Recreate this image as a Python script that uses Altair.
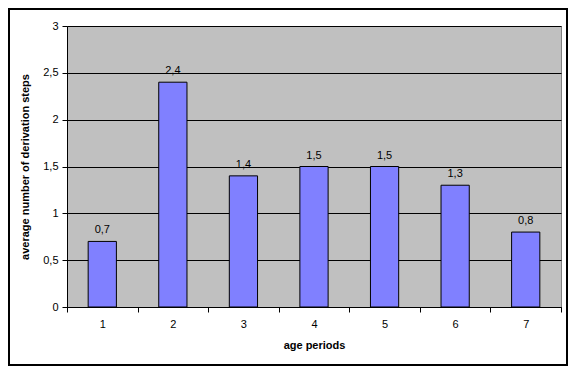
import altair as alt
import pandas as pd

periods = ["1", "2", "3", "4", "5", "6", "7"]
values = [0.7, 2.4, 1.4, 1.5, 1.5, 1.3, 0.8]
value_labels = ["0,7", "2,4", "1,4", "1,5", "1,5", "1,3", "0,8"]
y_ticks = [0, 0.5, 1, 1.5, 2, 2.5, 3]

df = pd.DataFrame({"period": periods, "value": values, "label": value_labels})

FONT = "Liberation Sans"

x_enc = alt.X(
    "period:N",
    sort=periods,
    title="age periods",
    scale=alt.Scale(paddingInner=0, paddingOuter=0),
    axis=alt.Axis(
        labelAngle=0,
        tickBand="extent",
        tickSize=5,
        tickColor="black",
        domainColor="black",
        labelPadding=6,
        labelFontSize=11,
        labelFont=FONT,
        labelColor="black",
        titleFont=FONT,
        titleFontSize=11,
        titleFontWeight="bold",
        titleColor="black",
        titlePadding=10,
        grid=False,
    ),
)

y_enc = alt.Y(
    "value:Q",
    title="average number of derivation steps",
    scale=alt.Scale(domain=[0, 3], nice=False),
    axis=alt.Axis(
        values=y_ticks,
        labelExpr="replace(toString(datum.value), '.', ',')",
        tickSize=5,
        tickColor="black",
        domainColor="black",
        labelPadding=4,
        labelFontSize=11,
        labelFont=FONT,
        labelColor="black",
        titleFont=FONT,
        titleFontSize=11,
        titleFontWeight="bold",
        titleColor="black",
        titlePadding=12,
        grid=True,
        gridColor="black",
        gridOpacity=1,
        gridWidth=1,
    ),
)

bars = alt.Chart(df).mark_bar(
    color="#8080FF", stroke="black", strokeWidth=1,
    width=alt.RelativeBandSize(0.4),
).encode(x=x_enc, y=y_enc)

texts = alt.Chart(df).mark_text(
    baseline="bottom", dy=-6, fontSize=11, font=FONT, color="black"
).encode(x=alt.X("period:N", sort=periods), y="value:Q", text="label:N")

# outer chart frame (decoration)
frame = alt.Chart(df).mark_rect(
    fill="transparent", stroke="black", strokeWidth=2, clip=False
).encode(
    x=alt.value(-58), x2=alt.value(500), y=alt.value(-17), y2=alt.value(339)
)

chart = alt.layer(bars, texts, frame).properties(
    width=494,
    height=281,
    background="white",
    autosize=alt.AutoSizeParams(type="none"),
    padding={"left": 59, "top": 18, "right": 7, "bottom": 59},
).configure_view(
    fill="#C0C0C0", stroke="#808080", strokeWidth=1
)

chart.save("out.html", embed_options={"renderer": "svg", "actions": False})
